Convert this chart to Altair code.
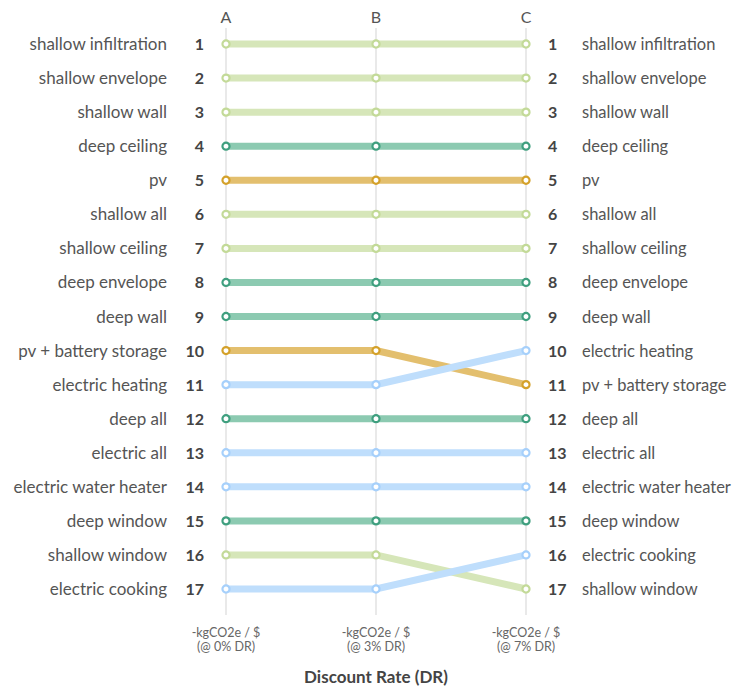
import altair as alt
import pandas as pd

measures = ["A", "B", "C"]
measure_pos = [0, 1, 2]
unit_labels = ["-kgCO2e / $", "-kgCO2e / $", "-kgCO2e / $"]
dr_labels = ["(@ 0% DR)", "(@ 3% DR)", "(@ 7% DR)"]
axis_title = "Discount Rate (DR)"

items = [
    "shallow infiltration", "shallow envelope", "shallow wall", "deep ceiling", "pv",
    "shallow all", "shallow ceiling", "deep envelope", "deep wall", "pv + battery storage",
    "electric heating", "deep all", "electric all", "electric water heater", "deep window",
    "shallow window", "electric cooking",
]
groups = [
    "shallow", "shallow", "shallow", "deep", "pv",
    "shallow", "shallow", "deep", "deep", "pv",
    "electric", "deep", "electric", "electric", "deep",
    "shallow", "electric",
]
rank_A = [1, 2, 3, 4, 5, 6, 7, 8, 9, 10, 11, 12, 13, 14, 15, 16, 17]
rank_B = [1, 2, 3, 4, 5, 6, 7, 8, 9, 10, 11, 12, 13, 14, 15, 16, 17]
rank_C = [1, 2, 3, 4, 5, 6, 7, 8, 9, 11, 10, 12, 13, 14, 15, 17, 16]

group_names = ["shallow", "deep", "pv", "electric"]
line_colors = ["#d6e6b9", "#8ccab1", "#e3bf6e", "#bfdefc"]
point_colors = ["#c3da98", "#3f9f7f", "#d4a12a", "#a6d0fb"]

FONT = "Lato"

rows = []
for m, pos, ranks in zip(measures, measure_pos, [rank_A, rank_B, rank_C]):
    for it, g, r in zip(items, groups, ranks):
        rows.append({"measure": m, "pos": pos, "item": it, "group": g, "rank": r})
df = pd.DataFrame(rows)
dfA = df[df.measure == "A"]
dfC = df[df.measure == "C"]

cols = pd.DataFrame({"measure": measures, "pos": measure_pos,
                     "unit": unit_labels, "dr": dr_labels})
title_df = pd.DataFrame({"pos": [1], "t": [axis_title]})

xs = alt.Scale(domain=[0, 2], range=[218, 518])
ys = alt.Scale(domain=[1, 17], range=[36, 581])
X = alt.X("pos:Q", scale=xs, axis=None)
Y = alt.Y("rank:Q", scale=ys, axis=None)

grid = alt.Chart(cols).mark_rule(color="#e9e9e9", strokeWidth=2).encode(
    x=X, y=alt.value(20), y2=alt.value(607))

lines = alt.Chart(df).mark_line(strokeWidth=7, strokeCap="butt").encode(
    x=X, y=Y, detail="item:N",
    color=alt.Color("group:N", scale=alt.Scale(domain=group_names, range=line_colors), legend=None),
    order="pos:Q")

points = alt.Chart(df).mark_point(shape="circle", filled=True, fill="white", fillOpacity=1,
                                  strokeWidth=2.2, size=50, opacity=1).encode(
    x=X, y=Y,
    stroke=alt.Stroke("group:N", scale=alt.Scale(domain=group_names, range=point_colors), legend=None))

headers = alt.Chart(cols).mark_text(font=FONT, fontSize=16, color="#555555", baseline="middle").encode(
    x=X, y=alt.value(10), text="measure:N")

left_num = alt.Chart(dfA).mark_text(font=FONT, fontSize=16, fontWeight="bold", color="#444444",
                                    align="right", baseline="middle", dx=-22, dy=1).encode(
    x=X, y=Y, text="rank:Q")
left_lab = alt.Chart(dfA).mark_text(font=FONT, fontSize=17, color="#555555",
                                    align="right", baseline="middle", dx=-59, dy=1).encode(
    x=X, y=Y, text="item:N")
right_num = alt.Chart(dfC).mark_text(font=FONT, fontSize=16, fontWeight="bold", color="#444444",
                                     align="left", baseline="middle", dx=22, dy=1).encode(
    x=X, y=Y, text="rank:Q")
right_lab = alt.Chart(dfC).mark_text(font=FONT, fontSize=16.5, color="#555555",
                                     align="left", baseline="middle", dx=56, dy=1).encode(
    x=X, y=Y, text="item:N")

unit_txt = alt.Chart(cols).mark_text(font=FONT, fontSize=12.5, color="#666666", baseline="middle").encode(
    x=X, y=alt.value(625), text="unit:N")
dr_txt = alt.Chart(cols).mark_text(font=FONT, fontSize=12.5, color="#666666", baseline="middle").encode(
    x=X, y=alt.value(639), text="dr:N")
title_txt = alt.Chart(title_df).mark_text(font=FONT, fontSize=17, fontWeight="bold",
                                          color="#444444", baseline="middle").encode(
    x=X, y=alt.value(670), text="t:N")

chart = alt.layer(grid, lines, points, headers, left_num, left_lab, right_num, right_lab,
                  unit_txt, dr_txt, title_txt).properties(
    width=727, height=679, padding=0, autosize=alt.AutoSizeParams(type="none")
).configure_view(stroke=None)

chart.save("out.html", embed_options={"renderer": "svg", "actions": False})
